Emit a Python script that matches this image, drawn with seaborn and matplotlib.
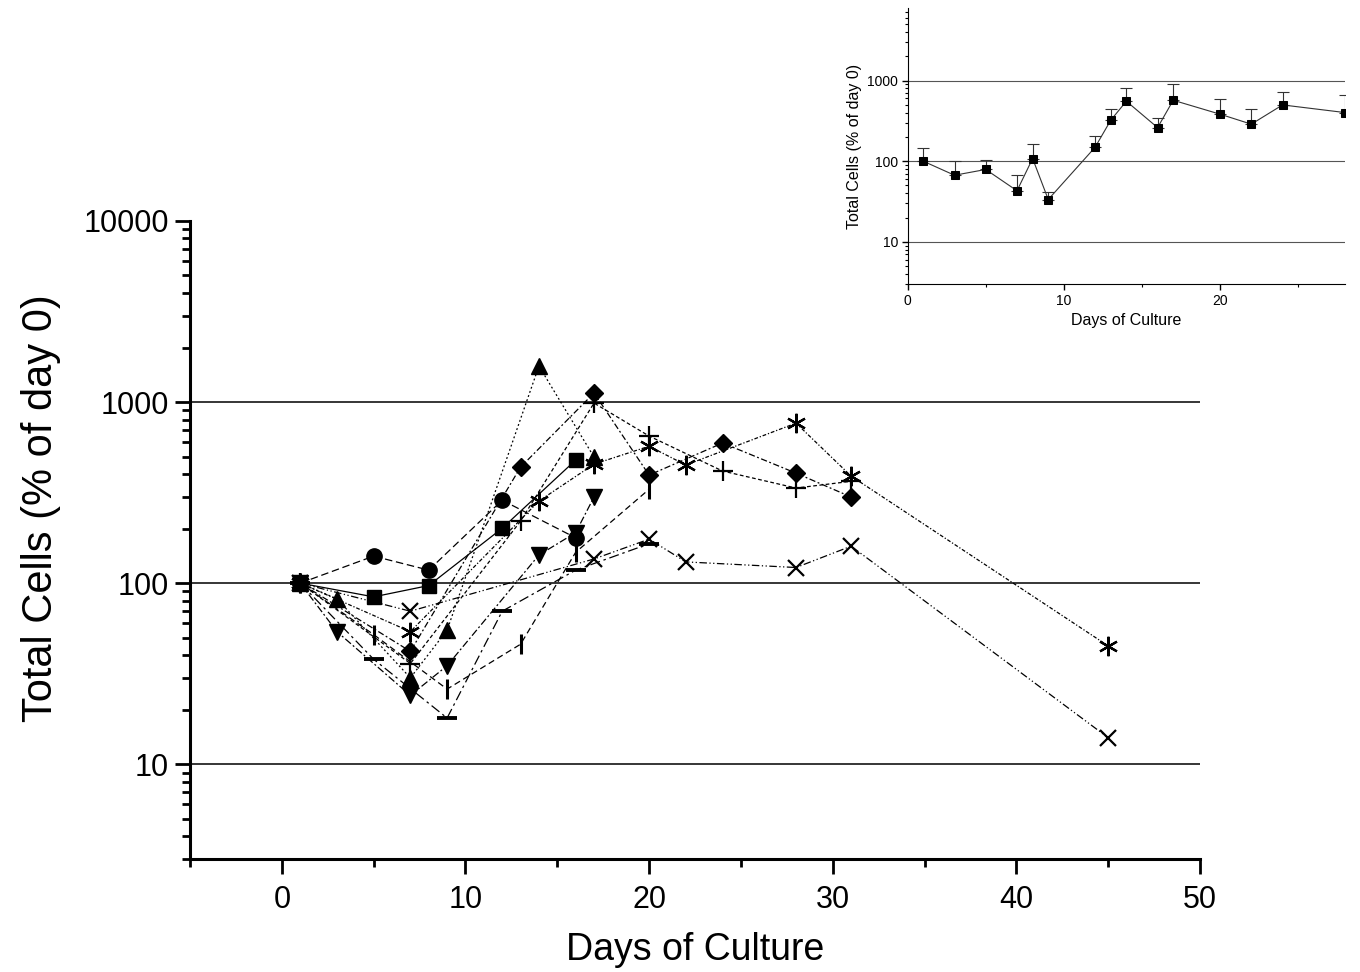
import numpy as np
import pandas as pd
import seaborn as sns
import matplotlib.pyplot as plt
from matplotlib.ticker import FixedLocator, NullFormatter, LogLocator

# --- main panel: individual cultures (day, % of day 0) ---
circle_days = [1, 5, 8, 12, 16]
circle_vals = [100, 141, 118, 287, 178]

square_days = [1, 5, 8, 12, 16]
square_vals = [100, 84, 97, 201, 478]

tri_up_days = [1, 3, 7, 9, 14, 17]
tri_up_vals = [100, 82, 30, 55, 1580, 497]

tri_down_days = [1, 3, 7, 9, 14, 16, 17]
tri_down_vals = [100, 54, 24, 35, 143, 190, 299]

diamond_days = [1, 7, 13, 17, 20, 24, 28, 31]
diamond_vals = [100, 42, 437, 1122, 395, 594, 405, 299]

star_days = [1, 7, 14, 17, 20, 22, 28, 31, 45]
star_vals = [100, 54, 284, 454, 570, 449, 765, 390, 45]

plus_days = [1, 7, 13, 17, 20, 24, 28, 31]
plus_vals = [100, 36, 220, 987, 649, 416, 335, 365]

cross_days = [1, 7, 17, 20, 22, 28, 31, 45]
cross_vals = [100, 70, 136, 175, 131, 122, 160, 14]

vbar_days = [1, 5, 9, 13, 16, 20]
vbar_vals = [100, 52, 26, 46, 148, 330]

hbar_days = [1, 5, 9, 12, 16, 20]
hbar_vals = [100, 38, 18, 70, 118, 165]

ref_levels = [10, 100, 1000]

# --- inset: mean of cultures with upper error ---
mean_days = [1, 3, 5, 7, 8, 9, 12, 13, 14, 16, 17, 20, 22, 24, 28]
mean_vals = [100, 67, 79, 43, 108, 33.5, 149, 322, 555, 261, 570, 383, 288, 499, 401]
mean_upper = [146, 100, 105, 67, 164, 42, 204, 445, 811, 344, 908, 593, 450, 731, 658]

sns.set_style("ticks")
plt.rcParams["font.family"] = ["Liberation Sans", "DejaVu Sans"]
plt.rcParams["text.color"] = "black"
plt.rcParams["axes.labelcolor"] = "black"
plt.rcParams["xtick.color"] = "black"
plt.rcParams["ytick.color"] = "black"
plt.rcParams["axes.edgecolor"] = "black"

fig = plt.figure(figsize=(13.6, 9.72), dpi=100)
ax = fig.add_axes([0.1397, 0.1163, 0.7427, 0.6564])

series = [
    (circle_days, circle_vals, "o", (6, 3), 11, 1.0),
    (square_days, square_vals, "s", "", 10, 1.0),
    (tri_up_days, tri_up_vals, "^", (1.5, 2), 12, 1.0),
    (tri_down_days, tri_down_vals, "v", (6, 2, 1.5, 2), 12, 1.0),
    (diamond_days, diamond_vals, "D", (5, 2, 1.5, 2), 9, 1.0),
    (star_days, star_vals, (6, 2, 0), (3, 1.5, 1, 1.5), 14, 1.6),
    (plus_days, plus_vals, "+", (3, 2), 14, 1.6),
    (cross_days, cross_vals, "x", (6, 2, 1, 2, 1, 2), 12, 1.6),
    (vbar_days, vbar_vals, "|", (5, 3), 14, 2.2),
    (hbar_days, hbar_vals, "_", (8, 3, 2, 3), 14, 2.8),
]

for days, vals, mk, dash, ms, mew in series:
    df = pd.DataFrame({"day": days, "cells": vals})
    ls = "-" if dash == "" else (0, dash)
    sns.lineplot(data=df, x="day", y="cells", ax=ax, color="black",
                 marker=mk, markersize=ms, markeredgecolor="black",
                 markerfacecolor="black", markeredgewidth=mew,
                 linewidth=0.9, linestyle=ls, zorder=3)

for lvl in ref_levels:
    ax.axhline(lvl, color="black", linewidth=1.1, zorder=1)

ax.set_yscale("log")
ax.set_xlim(-5, 50)
ax.set_ylim(3, 10000)
ax.set_yticks([10, 100, 1000, 10000])
ax.set_yticklabels(["10", "100", "1000", "10000"])
ax.yaxis.set_minor_locator(LogLocator(base=10, subs=np.arange(2, 10)))
ax.yaxis.set_minor_formatter(NullFormatter())
ax.set_xticks([0, 10, 20, 30, 40, 50])
ax.xaxis.set_minor_locator(FixedLocator([-5, 5, 15, 25, 35, 45]))
ax.tick_params(axis="both", which="major", direction="out", length=11, width=2,
               labelsize=22)
ax.tick_params(axis="y", which="major", pad=4)
ax.tick_params(axis="x", which="major", pad=8)
ax.tick_params(axis="both", which="minor", direction="out", length=6, width=2)
sns.despine(ax=ax)
for side in ["left", "bottom"]:
    ax.spines[side].set_linewidth(2.2)
ax.set_xlabel("Days of Culture", fontsize=27, labelpad=12)
ax.set_ylabel("Total Cells (% of day 0)", fontsize=30)
ax.yaxis.set_label_coords(-0.128, 0.55)

# --- inset ---
ins = fig.add_axes([0.6674, 0.7078, 0.3216, 0.2840])
mdf = pd.DataFrame({"day": mean_days, "cells": mean_vals})
sns.lineplot(data=mdf, x="day", y="cells", ax=ins, color="#333333",
             marker="s", markersize=5.5, markeredgecolor="black",
             markerfacecolor="black", linewidth=0.8, zorder=3)
err_up = np.array(mean_upper) - np.array(mean_vals)
ins.errorbar(mean_days, mean_vals, yerr=[np.zeros(len(mean_vals)), err_up],
             fmt="none", ecolor="#333333", elinewidth=0.8, capsize=4,
             capthick=0.8, zorder=2)
for lvl in ref_levels:
    ins.axhline(lvl, color="#555555", linewidth=0.8, zorder=1)

ins.set_yscale("log")
ins.set_xlim(0, 28)
ins.set_ylim(3, 7950)
ins.set_yticks([10, 100, 1000])
ins.set_yticklabels(["10", "100", "1000"])
ins.yaxis.set_minor_locator(LogLocator(base=10, subs=np.arange(2, 10)))
ins.yaxis.set_minor_formatter(NullFormatter())
ins.set_xticks([0, 10, 20])
ins.xaxis.set_minor_locator(FixedLocator([5, 15, 25]))
ins.tick_params(axis="both", which="major", direction="out", length=4, width=1,
                labelsize=10, pad=3)
ins.tick_params(axis="both", which="minor", direction="out", length=2.5, width=0.8)
sns.despine(ax=ins)
ins.set_xlabel("Days of Culture", fontsize=11.5, labelpad=4)
ins.set_ylabel("Total Cells (% of day 0)", fontsize=11.5, labelpad=4)

fig.savefig("out.png", dpi=100)
